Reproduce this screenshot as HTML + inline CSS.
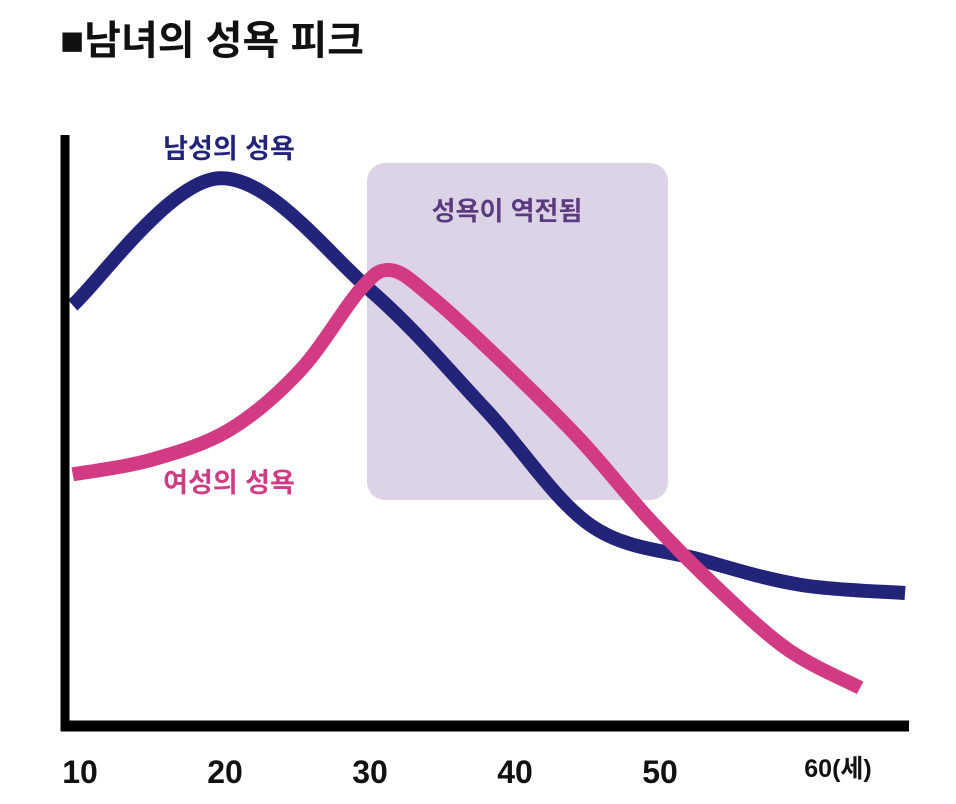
<!DOCTYPE html>
<html><head><meta charset="utf-8"><style>
html,body{margin:0;padding:0;background:#fff;}
body{width:956px;height:799px;overflow:hidden;font-family:"Liberation Sans","Noto Sans CJK KR",sans-serif;}
</style></head><body>
<svg id="chart" width="956" height="799" viewBox="0 0 956 799" xmlns="http://www.w3.org/2000/svg" font-family="'Liberation Sans','Noto Sans CJK KR',sans-serif">
<text x="60" y="54" font-size="40" font-weight="bold" fill="#111">■남녀의 성욕 피크</text>
<rect x="367" y="163" width="301" height="337" rx="18" fill="#ddd3e7"/>
<text x="507" y="220" font-size="26" font-weight="bold" fill="#5b3b80" text-anchor="middle">성욕이 역전됨</text>
<g id="lines"></g>
<line x1="65" y1="135" x2="65" y2="731" stroke="#000" stroke-width="9"/>
<line x1="61" y1="726" x2="909" y2="726" stroke="#000" stroke-width="11"/>
<text x="229" y="158" font-size="27" font-weight="bold" fill="#22247a" text-anchor="middle">남성의 성욕</text>
<text x="229" y="492" font-size="27" font-weight="bold" fill="#d23a84" text-anchor="middle">여성의 성욕</text>
<g id="ticks"></g>
</svg>
<script>
const tickAges = [10, 20, 30, 40, 50, 60];
const tickLabels = ["10", "20", "30", "40", "50", "60(세)"];
const maleAges = [9.5, 19.6, 30, 38, 45.2, 52.8, 59.7, 66.9];
const maleValues = [70.9, 92.6, 73.5, 53, 33.3, 27.4, 23.1, 21.7];
const femaleAges = [9.5, 14.8, 20.3, 25.2, 29.3, 31.4, 34.1, 39, 44.5, 49.3, 54.1, 58.9, 63.8];
const femaleValues = [42, 44.4, 49.6, 59.8, 73.5, 76.9, 72.6, 61.5, 47.9, 34.2, 22.2, 11.9, 5.5];

function xScale(a){ return 80 + (a - 10) * 14.5; }
function yScale(v){ return 720 - v * 5.85; }
const NS = "http://www.w3.org/2000/svg";
function smooth(ages, vals){
  const p = ages.map((a,i)=>[xScale(a), yScale(vals[i])]);
  let d = "M" + p[0][0] + "," + p[0][1];
  for(let i=0;i<p.length-1;i++){
    const p0=p[i-1]||p[i], p1=p[i], p2=p[i+1], p3=p[i+2]||p2;
    const c1=[p1[0]+(p2[0]-p0[0])/6, p1[1]+(p2[1]-p0[1])/6];
    const c2=[p2[0]-(p3[0]-p1[0])/6, p2[1]-(p3[1]-p1[1])/6];
    d += " C"+c1[0]+","+c1[1]+" "+c2[0]+","+c2[1]+" "+p2[0]+","+p2[1];
  }
  return d;
}
const g = document.getElementById("lines");
const male = document.createElementNS(NS,"path");
male.setAttribute("d", smooth(maleAges, maleValues));
male.setAttribute("fill","none"); male.setAttribute("stroke","#22247a"); male.setAttribute("stroke-width","14");


g.appendChild(male);
const female = document.createElementNS(NS,"path");
female.setAttribute("d", smooth(femaleAges, femaleValues));
female.setAttribute("fill","none"); female.setAttribute("stroke","#d23a84"); female.setAttribute("stroke-width","14");


g.appendChild(female);
const t = document.getElementById("ticks");
tickAges.forEach((a,i)=>{
  const tx = document.createElementNS(NS,"text");
  const last = i === tickAges.length-1;
  tx.setAttribute("x", last ? xScale(a)+33 : xScale(a));
  tx.setAttribute("y", last ? 777 : 783);
  tx.setAttribute("font-size", last ? "25" : "32");
  tx.setAttribute("font-weight","bold");
  tx.setAttribute("text-anchor","middle");
  tx.setAttribute("fill","#111");
  tx.textContent = tickLabels[i];
  
  
  t.appendChild(tx);
});
</script>
</body></html>
